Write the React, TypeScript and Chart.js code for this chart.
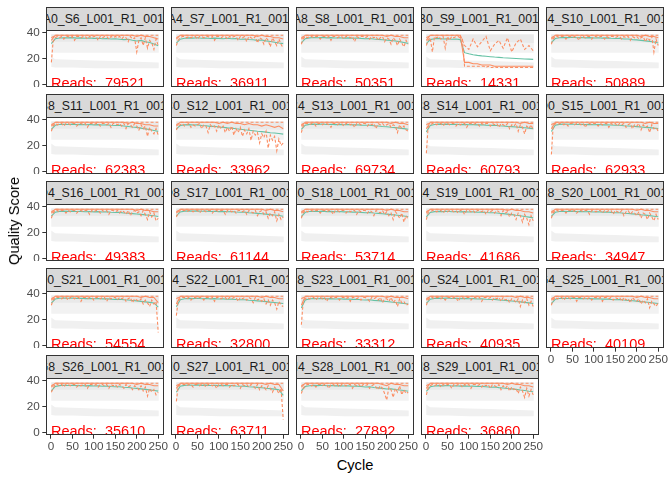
import { useEffect, useRef } from "react";
import { Chart, registerables } from "chart.js";

Chart.register(...registerables);

const FONT = '"Liberation Sans", Arial, sans-serif';

// layout of the facet grid (px)
const PANEL_LEFT = 46;
const STRIP_TOP = 7;
const PITCH_X = 125;
const PITCH_Y = 87;
const PANEL_W = 118;
const PANEL_H = 57;
const STRIP_H = 23;
const Y_AXIS_W = 46;
const X_AXIS_H = 20;
const RIGHT_PAD = 12;

const xTicks = [0, 50, 100, 150, 200, 250];
const yTicks = [0, 10, 20, 30, 40];

const sampleIds = [
  "A0_S6", "A4_S7", "A8_S8", "B0_S9", "B4_S10",
  "B8_S11", "C0_S12", "C4_S13", "C8_S14", "D0_S15",
  "D4_S16", "D8_S17", "E0_S18", "E4_S19", "E8_S20",
  "F0_S21", "F4_S22", "F8_S23", "G0_S24", "G4_S25",
  "G8_S26", "H0_S27", "H4_S28", "H8_S29"
];
const readCounts = [
  79521, 36911, 50351, 14331, 50889,
  62383, 33962, 69734, 60793, 62933,
  49383, 61144, 53714, 41686, 34947,
  54554, 32800, 33312, 40935, 40109,
  35610, 63711, 27892, 36860
];

// cycles where mean / median / q75 were read
const cycles10 = [1, 10, 20, 30, 40, 50, 60, 70, 80, 90, 100, 110, 120, 130, 140, 150, 160, 170, 180, 190, 200, 210, 220, 230, 240, 250];
// cycles where q25 was read
const cycles5 = [
  1, 5, 10, 15, 20, 25, 30, 35, 40, 45,
  50, 55, 60, 65, 70, 75, 80, 85, 90, 95,
  100, 105, 110, 115, 120, 125, 130, 135, 140, 145,
  150, 155, 160, 165, 170, 175, 180, 185, 190, 195,
  200, 205, 210, 215, 220, 225, 230, 235, 240, 245,
  250
];

// grey quality heat bands
const heatCycles = [0.5, 10, 50, 100, 150, 200, 251.5];
const heatHighTop = [38.8, 38.8, 38.8, 38.8, 38.8, 38.8, 38.8];
const heatHighBottom = [24.5, 24.5, 24.5, 24.5, 24.5, 24.5, 24.5];
const heatCoreTop = [38.5, 38.5, 38.5, 38.5, 38.5, 38.5, 38.5];
const heatCoreBottom = [32.5, 33, 33, 33, 33, 32.5, 32];
const heatLowTop = [21.5, 19.5, 19, 18.5, 18, 17.5, 17];
const heatLowBottom = [13.5, 13, 13, 12.5, 12.5, 12.5, 12.5];

// mean quality (green)
const meanS6 = [31.5, 35.2, 35.8, 36.0, 35.9, 36.1, 35.7, 35.9, 35.6, 35.8, 35.5, 35.6, 35.3, 35.4, 35.0, 35.2, 34.9, 34.6, 34.8, 34.1, 33.5, 34.0, 32.9, 32.3, 31.2, 29.8];
const meanS7 = [31.8, 34.9, 35.6, 35.9, 35.7, 36.0, 35.6, 35.8, 35.4, 35.7, 35.5, 35.3, 35.6, 35.2, 35.4, 34.9, 35.1, 34.7, 34.5, 34.0, 34.3, 33.6, 33.1, 32.6, 32.0, 31.5];
const meanS8 = [32.0, 35.3, 35.9, 36.2, 36.0, 36.3, 35.9, 36.1, 35.8, 36.0, 35.7, 35.9, 35.6, 35.8, 35.5, 35.3, 35.4, 35.0, 34.8, 34.5, 34.2, 33.9, 33.5, 33.0, 32.4, 31.7];
const meanS9 = [31.5, 34.6, 35.2, 35.5, 35.0, 35.3, 34.9, 35.1, 34.6, 24.5, 23.6, 22.9, 22.4, 22.0, 21.7, 21.4, 21.1, 20.9, 20.6, 20.4, 20.2, 20.0, 19.8, 19.6, 19.5, 19.3];
const meanS10 = [32.2, 35.4, 36.0, 36.3, 36.1, 36.4, 36.0, 36.2, 35.9, 36.1, 35.8, 36.0, 35.7, 35.9, 35.6, 35.4, 35.5, 35.1, 35.0, 34.6, 34.4, 34.0, 33.6, 33.2, 32.7, 32.0];
const meanS11 = [32.5, 35.6, 36.2, 36.4, 36.2, 36.5, 36.1, 36.3, 36.0, 36.2, 35.9, 36.1, 35.8, 35.9, 35.6, 35.4, 35.5, 35.0, 34.7, 34.3, 34.0, 33.4, 32.8, 32.3, 31.6, 30.9];
const meanS12 = [32.8, 35.4, 35.9, 36.1, 35.8, 35.9, 35.4, 35.3, 34.8, 34.9, 34.3, 34.0, 33.6, 33.4, 32.9, 32.5, 32.1, 31.8, 31.4, 31.0, 30.7, 30.3, 29.9, 29.6, 29.3, 28.8];
const meanS13 = [32.4, 35.7, 36.3, 36.5, 36.3, 36.6, 36.2, 36.4, 36.1, 36.3, 36.0, 36.2, 35.9, 36.0, 35.7, 35.6, 35.6, 35.2, 35.0, 34.7, 34.5, 34.1, 33.8, 33.4, 33.0, 32.6];
const meanS14 = [30.5, 35.5, 36.2, 36.5, 36.3, 36.5, 36.2, 36.4, 36.1, 36.3, 36.0, 36.1, 35.9, 36.0, 35.7, 35.5, 35.6, 35.2, 35.1, 34.8, 34.6, 34.3, 34.0, 33.7, 33.4, 33.0];
const meanS15 = [30.8, 35.6, 36.3, 36.5, 36.4, 36.6, 36.2, 36.4, 36.1, 36.3, 36.0, 36.2, 35.9, 36.0, 35.8, 35.6, 35.6, 35.3, 35.1, 34.9, 34.6, 34.3, 34.0, 33.8, 33.4, 33.1];
const meanS16 = [32.6, 35.7, 36.3, 36.5, 36.3, 36.5, 36.2, 36.3, 36.0, 36.2, 35.9, 36.1, 35.8, 35.9, 35.6, 35.4, 35.5, 35.1, 34.9, 34.6, 34.3, 34.0, 33.6, 33.3, 32.9, 32.4];
const meanS17 = [32.9, 35.9, 36.5, 36.7, 36.5, 36.7, 36.4, 36.5, 36.2, 36.4, 36.1, 36.3, 36.0, 36.1, 35.8, 35.6, 35.7, 35.3, 35.1, 34.8, 34.5, 34.2, 33.8, 33.5, 33.1, 32.6];
const meanS18 = [32.3, 35.6, 36.2, 36.4, 36.2, 36.5, 36.1, 36.3, 36.0, 36.2, 35.9, 36.0, 35.7, 35.8, 35.5, 35.3, 35.4, 35.0, 34.8, 34.5, 34.2, 33.8, 33.5, 33.1, 32.7, 32.2];
const meanS19 = [32.1, 35.5, 36.1, 36.3, 36.1, 36.4, 36.0, 36.2, 35.9, 36.1, 35.8, 35.9, 35.6, 35.7, 35.4, 35.2, 35.3, 34.9, 34.6, 34.2, 33.8, 33.3, 32.9, 32.4, 31.9, 31.3];
const meanS20 = [32.4, 35.6, 36.2, 36.4, 36.2, 36.5, 36.1, 36.3, 36.0, 36.1, 35.8, 36.0, 35.7, 35.8, 35.5, 35.3, 35.3, 34.9, 34.7, 34.4, 34.1, 33.7, 33.4, 33.0, 32.6, 32.1];
const meanS21 = [32.7, 35.8, 36.4, 36.6, 36.4, 36.6, 36.3, 36.4, 36.1, 36.3, 36.0, 36.2, 35.9, 36.0, 35.7, 35.5, 35.6, 35.2, 35.0, 34.7, 34.4, 34.0, 33.6, 33.2, 32.8, 29.5];
const meanS22 = [29.8, 35.2, 36.0, 36.3, 36.1, 36.4, 36.0, 36.2, 35.9, 36.1, 35.8, 35.9, 35.6, 35.7, 35.4, 35.2, 35.3, 34.9, 34.7, 34.4, 34.1, 33.8, 33.4, 33.1, 32.7, 32.3];
const meanS23 = [28.9, 35.0, 35.9, 36.2, 36.0, 36.3, 35.9, 36.1, 35.8, 36.0, 35.7, 35.8, 35.5, 35.6, 35.3, 35.1, 35.2, 34.8, 34.6, 34.2, 33.9, 33.5, 33.1, 32.8, 32.4, 32.0];
const meanS24 = [32.5, 35.7, 36.3, 36.5, 36.3, 36.6, 36.2, 36.4, 36.1, 36.3, 36.0, 36.1, 35.8, 35.9, 35.6, 35.4, 35.5, 35.1, 34.9, 34.6, 34.3, 33.9, 33.6, 33.2, 32.8, 32.4];
const meanS25 = [32.3, 35.6, 36.2, 36.4, 36.2, 36.5, 36.1, 36.3, 36.0, 36.2, 35.9, 36.0, 35.7, 35.8, 35.5, 35.3, 35.4, 35.0, 34.8, 34.5, 34.2, 33.8, 33.5, 33.1, 32.7, 32.3];
const meanS26 = [32.1, 35.5, 36.1, 36.4, 36.2, 36.4, 36.1, 36.2, 35.9, 36.1, 35.8, 35.9, 35.6, 35.7, 35.4, 35.2, 35.3, 34.9, 34.7, 34.3, 34.0, 33.6, 33.2, 32.8, 32.4, 31.9];
const meanS27 = [31.0, 35.6, 36.3, 36.6, 36.4, 36.7, 36.3, 36.5, 36.2, 36.4, 36.1, 36.3, 36.0, 36.1, 35.8, 35.6, 35.7, 35.3, 35.1, 34.8, 34.5, 34.1, 33.8, 33.4, 33.0, 28.6];
const meanS28 = [32.0, 35.4, 36.0, 36.3, 36.1, 36.4, 36.0, 36.2, 35.9, 36.1, 35.8, 35.9, 35.6, 35.7, 35.4, 35.1, 35.2, 34.7, 34.4, 34.0, 33.5, 33.6, 33.1, 32.7, 32.3, 31.8];
const meanS29 = [31.6, 35.2, 35.8, 36.1, 35.9, 36.2, 35.8, 36.0, 35.7, 35.9, 35.6, 35.7, 35.4, 35.5, 35.2, 34.9, 35.0, 34.6, 34.3, 33.9, 33.6, 33.2, 32.7, 32.3, 31.8, 31.4];

// median quality (solid orange)
const medS6 = [34, 38, 38, 38, 38, 38, 38, 38, 38, 38, 38, 38, 38, 38, 38, 38, 38, 38, 38, 38, 37, 38, 37, 37, 36, 35];
const medS7 = [35, 38, 38, 38, 38, 38, 38, 38, 38, 38, 38, 38, 38, 38, 38, 38, 38, 38, 38, 37, 38, 37, 37, 36, 36, 35];
const medS8 = [35, 38, 38, 38, 38, 38, 38, 38, 38, 38, 38, 38, 38, 38, 38, 38, 38, 38, 38, 38, 37, 38, 37, 37, 36, 36];
const medS9 = [34, 38, 38, 38, 38, 38, 38, 38, 38, 17, 17, 16, 16, 15, 15, 15, 14, 14, 14, 14, 14, 14, 14, 14, 14, 14];
const medS10 = [35, 38, 38, 38, 38, 38, 38, 38, 38, 38, 38, 38, 38, 38, 38, 38, 38, 38, 38, 38, 38, 37, 38, 37, 37, 36];
const medS11 = [35, 38, 38, 38, 38, 38, 38, 38, 38, 38, 38, 38, 38, 38, 38, 38, 38, 38, 37, 38, 37, 37, 36, 36, 35, 35];
const medS12 = [35, 38, 38, 38, 38, 38, 38, 38, 38, 38, 37, 38, 37, 38, 37, 37, 36, 37, 36, 36, 35, 36, 35, 34, 35, 33];
const medS13 = [35, 38, 38, 38, 38, 38, 38, 38, 38, 38, 38, 38, 38, 38, 38, 38, 38, 38, 38, 38, 38, 37, 38, 37, 37, 36];
const medS14 = [33, 38, 38, 38, 38, 38, 38, 38, 38, 38, 38, 38, 38, 38, 38, 38, 38, 38, 38, 38, 38, 38, 37, 38, 37, 37];
const medS15 = [33, 38, 38, 38, 38, 38, 38, 38, 38, 38, 38, 38, 38, 38, 38, 38, 38, 38, 38, 38, 38, 38, 37, 38, 37, 37];
const medS16 = [35, 38, 38, 38, 38, 38, 38, 38, 38, 38, 38, 38, 38, 38, 38, 38, 38, 38, 38, 38, 37, 38, 37, 37, 36, 36];
const medS17 = [35, 38, 38, 38, 38, 38, 38, 38, 38, 38, 38, 38, 38, 38, 38, 38, 38, 38, 38, 38, 38, 37, 38, 37, 37, 36];
const medS18 = [35, 38, 38, 38, 38, 38, 38, 38, 38, 38, 38, 38, 38, 38, 38, 38, 38, 38, 38, 38, 37, 38, 37, 37, 36, 36];
const medS19 = [35, 38, 38, 38, 38, 38, 38, 38, 38, 38, 38, 38, 38, 38, 38, 38, 38, 38, 38, 37, 38, 37, 37, 36, 36, 35];
const medS20 = [35, 38, 38, 38, 38, 38, 38, 38, 38, 38, 38, 38, 38, 38, 38, 38, 38, 38, 38, 38, 37, 38, 37, 37, 36, 36];
const medS21 = [35, 38, 38, 38, 38, 38, 38, 38, 38, 38, 38, 38, 38, 38, 38, 38, 38, 38, 38, 38, 38, 37, 38, 37, 37, 33];
const medS22 = [32, 38, 38, 38, 38, 38, 38, 38, 38, 38, 38, 38, 38, 38, 38, 38, 38, 38, 38, 38, 37, 38, 37, 37, 36, 36];
const medS23 = [31, 38, 38, 38, 38, 38, 38, 38, 38, 38, 38, 38, 38, 38, 38, 38, 38, 38, 38, 38, 37, 38, 37, 37, 37, 36];
const medS24 = [35, 38, 38, 38, 38, 38, 38, 38, 38, 38, 38, 38, 38, 38, 38, 38, 38, 38, 38, 38, 38, 37, 38, 37, 37, 36];
const medS25 = [35, 38, 38, 38, 38, 38, 38, 38, 38, 38, 38, 38, 38, 38, 38, 38, 38, 38, 38, 38, 37, 38, 37, 37, 36, 36];
const medS26 = [35, 38, 38, 38, 38, 38, 38, 38, 38, 38, 38, 38, 38, 38, 38, 38, 38, 38, 38, 38, 37, 38, 37, 37, 36, 36];
const medS27 = [34, 38, 38, 38, 38, 38, 38, 38, 38, 38, 38, 38, 38, 38, 38, 38, 38, 38, 38, 38, 38, 37, 38, 37, 37, 32];
const medS28 = [35, 38, 38, 38, 38, 38, 38, 38, 38, 38, 38, 38, 38, 38, 38, 38, 38, 38, 38, 37, 36, 38, 37, 37, 36, 36];
const medS29 = [34, 38, 38, 38, 38, 38, 38, 38, 38, 38, 38, 38, 38, 38, 38, 38, 38, 38, 38, 37, 38, 37, 37, 36, 36, 35];

// upper quartile (dashed orange)
const q75Typical = [36, 38, 38, 38, 38, 38, 38, 38, 38, 38, 38, 38, 38, 38, 38, 38, 38, 38, 38, 38, 38, 38, 38, 38, 38, 38];
const q75S9 = [36, 38, 38, 38, 38, 38, 38, 38, 38, 30, 27, 35, 29, 33, 37, 26, 31, 34, 28, 36, 25, 32, 35, 27, 30, 26];

// lower quartile (dashed orange), read every 5 cycles
const q25S6 = [17, 33, 36, 37, 36, 37, 35, 37, 37, 36, 37, 34, 37, 37, 36, 37, 37, 35, 37, 36, 37, 37, 34, 37, 36, 37, 37, 35, 37, 36, 37, 36, 37, 35, 37, 36, 33, 37, 35, 36, 25, 34, 36, 30, 36, 28, 34, 32, 27, 35, 30];
const q25S7 = [30, 34, 36, 37, 37, 36, 37, 36, 37, 37, 35, 37, 37, 36, 37, 37, 36, 37, 34, 37, 37, 36, 37, 37, 35, 37, 36, 37, 37, 34, 37, 36, 37, 33, 37, 36, 35, 37, 32, 36, 35, 31, 36, 34, 29, 36, 33, 30, 35, 31, 28];
const q25S8 = [31, 35, 37, 36, 37, 37, 36, 37, 37, 35, 37, 37, 36, 37, 34, 37, 37, 36, 37, 37, 35, 37, 37, 36, 37, 33, 37, 36, 37, 37, 36, 37, 35, 37, 36, 37, 34, 36, 37, 33, 36, 35, 31, 36, 34, 30, 35, 32, 29, 34, 31];
const q25S9 = [30, 34, 36, 25, 37, 36, 37, 35, 37, 28, 37, 34, 37, 36, 37, 37, 36, 35, 14, 14, 14, 14, 14, 14, 14, 14, 14, 14, 13, 14, 13, 13, 14, 13, 13, 13, 13, 13, 13, 13, 13, 13, 13, 13, 13, 13, 13, 13, 13, 13, 13];
const q25S10 = [31, 35, 37, 37, 36, 37, 37, 35, 37, 37, 36, 37, 37, 34, 37, 37, 36, 37, 37, 35, 37, 37, 36, 37, 37, 35, 37, 36, 37, 37, 36, 37, 37, 35, 37, 36, 37, 34, 37, 36, 37, 35, 36, 37, 33, 36, 34, 37, 25, 35, 30];
const q25S11 = [31, 35, 37, 36, 37, 37, 35, 37, 37, 36, 37, 37, 35, 37, 37, 36, 37, 34, 37, 37, 36, 37, 37, 35, 37, 37, 36, 37, 34, 37, 37, 36, 37, 35, 37, 33, 37, 36, 34, 37, 35, 32, 36, 33, 35, 27, 34, 31, 29, 33, 28];
const q25S12 = [32, 35, 36, 37, 35, 36, 37, 34, 36, 35, 36, 37, 33, 36, 35, 30, 36, 34, 35, 31, 36, 33, 35, 30, 34, 31, 35, 28, 33, 30, 34, 27, 32, 29, 33, 24, 31, 28, 30, 22, 29, 26, 31, 18, 28, 24, 27, 16, 25, 20, 22];
const q25S13 = [30, 35, 37, 37, 36, 37, 37, 35, 37, 37, 36, 37, 37, 36, 34, 37, 37, 36, 37, 37, 35, 37, 37, 36, 37, 34, 37, 37, 36, 37, 37, 35, 37, 36, 37, 33, 37, 36, 37, 35, 36, 37, 34, 36, 35, 30, 36, 33, 35, 32, 31];
const q25S14 = [14, 34, 36, 37, 37, 36, 37, 37, 35, 37, 37, 36, 37, 37, 35, 37, 36, 37, 37, 34, 37, 37, 36, 37, 37, 35, 37, 36, 37, 37, 35, 37, 36, 37, 34, 37, 36, 35, 37, 33, 36, 35, 37, 31, 36, 34, 29, 35, 33, 36, 32];
const q25S15 = [13, 34, 37, 36, 37, 37, 36, 37, 35, 37, 37, 36, 37, 37, 36, 37, 34, 37, 37, 36, 37, 37, 35, 37, 36, 37, 37, 34, 37, 36, 37, 35, 37, 36, 37, 34, 36, 37, 33, 36, 35, 37, 32, 36, 34, 35, 30, 36, 33, 34, 31];
const q25S16 = [31, 35, 37, 37, 36, 37, 37, 35, 37, 36, 37, 37, 35, 37, 37, 36, 37, 37, 34, 37, 36, 37, 37, 35, 37, 36, 37, 34, 37, 37, 36, 37, 35, 37, 36, 34, 37, 33, 36, 37, 35, 36, 33, 37, 34, 30, 36, 32, 35, 29, 31];
const q25S17 = [32, 35, 37, 37, 37, 36, 37, 37, 36, 37, 37, 35, 37, 37, 36, 37, 37, 35, 37, 37, 36, 37, 37, 34, 37, 37, 36, 37, 35, 37, 37, 36, 37, 34, 37, 36, 35, 37, 33, 36, 37, 34, 36, 31, 35, 33, 36, 29, 34, 30, 32];
const q25S18 = [31, 35, 37, 36, 37, 37, 36, 37, 37, 35, 37, 37, 36, 37, 37, 34, 37, 37, 36, 37, 37, 35, 37, 36, 37, 37, 34, 37, 36, 37, 37, 35, 37, 36, 33, 37, 36, 35, 37, 34, 36, 33, 35, 30, 36, 34, 31, 35, 28, 33, 30];
const q25S19 = [30, 35, 36, 37, 37, 36, 37, 37, 35, 37, 36, 37, 37, 36, 37, 35, 37, 37, 34, 37, 37, 36, 37, 35, 37, 37, 36, 37, 34, 37, 36, 37, 35, 37, 36, 33, 37, 35, 36, 32, 35, 34, 30, 35, 33, 28, 34, 31, 26, 33, 29];
const q25S20 = [31, 35, 37, 37, 36, 37, 37, 35, 37, 37, 36, 37, 35, 37, 37, 36, 37, 37, 34, 37, 37, 36, 37, 37, 35, 37, 36, 37, 37, 34, 37, 36, 35, 37, 33, 36, 37, 34, 36, 35, 33, 36, 31, 35, 34, 30, 35, 32, 29, 34, 30];
const q25S21 = [31, 35, 37, 37, 37, 36, 37, 37, 35, 37, 37, 36, 37, 37, 34, 37, 37, 36, 37, 37, 35, 37, 37, 36, 37, 37, 34, 37, 36, 37, 37, 35, 37, 36, 37, 34, 36, 37, 33, 36, 35, 34, 36, 32, 35, 33, 30, 35, 32, 34, 10];
const q25S22 = [23, 34, 36, 37, 37, 36, 37, 35, 37, 37, 36, 37, 37, 35, 37, 37, 36, 37, 34, 37, 37, 36, 37, 37, 35, 37, 36, 37, 37, 34, 37, 36, 37, 35, 37, 36, 33, 37, 35, 36, 34, 36, 32, 35, 31, 35, 33, 28, 34, 31, 30];
const q25S23 = [16, 33, 36, 37, 36, 37, 37, 35, 37, 37, 36, 37, 34, 37, 37, 36, 37, 37, 35, 37, 37, 36, 37, 34, 37, 37, 36, 37, 35, 37, 37, 36, 34, 37, 36, 37, 35, 37, 33, 36, 36, 34, 37, 33, 35, 30, 36, 33, 34, 31, 32];
const q25S24 = [31, 35, 37, 37, 36, 37, 37, 36, 37, 35, 37, 37, 36, 37, 37, 34, 37, 37, 36, 37, 37, 35, 37, 37, 36, 37, 34, 37, 37, 36, 37, 35, 37, 36, 37, 34, 37, 35, 36, 33, 36, 35, 33, 36, 30, 35, 33, 36, 31, 34, 30];
const q25S25 = [31, 35, 37, 36, 37, 37, 35, 37, 37, 36, 37, 37, 34, 37, 37, 36, 37, 36, 37, 35, 37, 37, 36, 37, 34, 37, 37, 36, 37, 35, 37, 36, 37, 34, 37, 35, 36, 33, 37, 35, 34, 36, 32, 35, 33, 36, 29, 34, 32, 30, 33];
const q25S26 = [31, 34, 37, 37, 36, 37, 35, 37, 37, 36, 37, 37, 35, 37, 36, 37, 37, 34, 37, 37, 36, 37, 35, 37, 37, 36, 37, 34, 37, 36, 37, 35, 37, 36, 34, 37, 35, 36, 33, 36, 35, 33, 36, 32, 35, 28, 34, 31, 33, 29, 31];
const q25S27 = [24, 35, 37, 37, 37, 36, 37, 37, 35, 37, 37, 36, 37, 37, 35, 37, 37, 36, 37, 34, 37, 37, 36, 37, 37, 35, 37, 36, 37, 37, 34, 37, 36, 37, 35, 37, 36, 34, 37, 33, 36, 35, 33, 36, 34, 31, 35, 33, 30, 34, 10];
const q25S28 = [30, 34, 36, 37, 37, 36, 37, 35, 37, 37, 36, 37, 37, 34, 37, 37, 36, 37, 35, 37, 37, 36, 37, 37, 34, 37, 36, 37, 35, 37, 36, 37, 34, 36, 37, 35, 33, 36, 34, 30, 25, 35, 33, 27, 34, 31, 36, 29, 33, 30, 31];
const q25S29 = [29, 34, 36, 37, 36, 37, 37, 35, 37, 36, 37, 37, 34, 37, 36, 37, 37, 35, 37, 36, 37, 34, 37, 37, 36, 37, 35, 37, 36, 37, 34, 37, 36, 35, 37, 33, 36, 34, 36, 32, 35, 33, 34, 30, 35, 32, 27, 34, 28, 33, 29];

const meanLines = [meanS6, meanS7, meanS8, meanS9, meanS10, meanS11, meanS12, meanS13, meanS14, meanS15, meanS16, meanS17, meanS18, meanS19, meanS20, meanS21, meanS22, meanS23, meanS24, meanS25, meanS26, meanS27, meanS28, meanS29];
const medianLines = [medS6, medS7, medS8, medS9, medS10, medS11, medS12, medS13, medS14, medS15, medS16, medS17, medS18, medS19, medS20, medS21, medS22, medS23, medS24, medS25, medS26, medS27, medS28, medS29];
const q25Lines = [q25S6, q25S7, q25S8, q25S9, q25S10, q25S11, q25S12, q25S13, q25S14, q25S15, q25S16, q25S17, q25S18, q25S19, q25S20, q25S21, q25S22, q25S23, q25S24, q25S25, q25S26, q25S27, q25S28, q25S29];
const q75Lines = sampleIds.map((id) => (id === "B0_S9" ? q75S9 : q75Typical));

const GREEN = "#66C2A5";
const ORANGE = "#FC8D62";

const pts = (xs: number[], ys: number[]) => ys.map((y, i) => ({ x: xs[i], y }));

const band = (ys: number[], fillTo: number | false, color: string, order: number) => ({
  data: pts(heatCycles, ys),
  borderWidth: 0,
  pointRadius: 0,
  fill: fillTo,
  backgroundColor: color,
  order
});

const line = (xs: number[], ys: number[], color: string, dashed: boolean, order: number) => ({
  data: pts(xs, ys),
  borderColor: color,
  borderWidth: 1.1,
  borderDash: dashed ? [3, 2] : [],
  pointRadius: 0,
  fill: false,
  tension: 0,
  order
});

function Panel({ i }: { i: number }) {
  const canvasRef = useRef<HTMLCanvasElement | null>(null);
  const col = i % 5;
  const row = Math.floor(i / 5);
  const showY = col === 0;
  const showX = i + 5 >= sampleIds.length;
  const panelX = PANEL_LEFT + col * PITCH_X;
  const top = STRIP_TOP + row * PITCH_Y;
  const left = panelX - (showY ? Y_AXIS_W : 0);
  const width = (showY ? Y_AXIS_W : 0) + PANEL_W + RIGHT_PAD;
  const height = STRIP_H + PANEL_H + (showX ? X_AXIS_H : 0);

  useEffect(() => {
    if (!canvasRef.current) return;
    const reads = readCounts[i];
    const tickFont = { family: FONT, size: 11.7 };

    const chart = new Chart(canvasRef.current, {
      type: "line",
      data: {
        datasets: [
          band(heatHighBottom, false, "transparent", 20),
          band(heatHighTop, 0, "#F2F2F2", 20),
          band(heatCoreBottom, false, "transparent", 19),
          band(heatCoreTop, 2, "#E9E9E9", 19),
          band(heatLowBottom, false, "transparent", 18),
          band(heatLowTop, 4, "#F0F0F0", 18),
          line(cycles10, meanLines[i], GREEN, false, 4),
          line(cycles5, q25Lines[i], ORANGE, true, 3),
          line(cycles10, medianLines[i], ORANGE, false, 2),
          line(cycles10, q75Lines[i], ORANGE, true, 1)
        ] as any
      },
      options: {
        responsive: false,
        animation: false,
        events: [],
        layout: { padding: { top: STRIP_H, right: RIGHT_PAD, left: 0, bottom: 0 } },
        plugins: { legend: { display: false }, tooltip: { enabled: false } },
        scales: {
          x: {
            type: "linear",
            min: -11.5,
            max: 263.5,
            display: showX,
            afterBuildTicks: (s: any) => {
              s.ticks = xTicks.map((v) => ({ value: v }));
            },
            afterFit: (s: any) => {
              s.height = showX ? X_AXIS_H : 0;
              s.paddingLeft = 0;
              s.paddingRight = 0;
            },
            grid: { drawOnChartArea: false, tickLength: 3.7, color: "#333333" },
            border: { display: false },
            ticks: { autoSkip: false, maxRotation: 0, minRotation: 0, padding: 1, color: "#4D4D4D", font: tickFont }
          },
          y: {
            type: "linear",
            min: -2,
            max: 42,
            display: showY,
            afterBuildTicks: (s: any) => {
              s.ticks = yTicks.map((v) => ({ value: v }));
            },
            afterFit: (s: any) => {
              s.width = showY ? Y_AXIS_W : 0;
              s.paddingTop = 0;
              s.paddingBottom = 0;
            },
            grid: { drawOnChartArea: false, tickLength: 3.7, color: "#333333" },
            border: { display: false },
            ticks: { padding: 2.5, color: "#4D4D4D", font: tickFont }
          }
        }
      },
      plugins: [
        {
          id: "panelDecor",
          afterDatasetsDraw(c: Chart) {
            const { ctx, chartArea: a } = c;
            ctx.save();
            ctx.beginPath();
            ctx.rect(a.left, a.top, a.right - a.left, a.bottom - a.top);
            ctx.clip();
            ctx.fillStyle = "#FF0000";
            ctx.font = `14.5px ${FONT}`;
            ctx.textAlign = "left";
            ctx.textBaseline = "middle";
            ctx.fillText(`Reads:  ${reads}`, c.scales.x.getPixelForValue(0), c.scales.y.getPixelForValue(0));
            ctx.restore();
            ctx.save();
            ctx.strokeStyle = "#333333";
            ctx.lineWidth = 1;
            ctx.strokeRect(Math.round(a.left) + 0.5, Math.round(a.top) + 0.5, Math.round(a.right - a.left) - 1, Math.round(a.bottom - a.top) - 1);
            ctx.restore();
          }
        }
      ]
    });

    return () => {
      chart.destroy();
    };
  }, []);

  return (
    <>
      <div style={{ position: "absolute", left, top, width, height }}>
        <canvas ref={canvasRef} width={width} height={height} style={{ display: "block", width, height }} />
      </div>
      <div
        style={{
          position: "absolute",
          left: panelX,
          top,
          width: PANEL_W,
          height: STRIP_H + 1,
          boxSizing: "border-box",
          border: "1px solid #333333",
          background: "#D9D9D9",
          overflow: "hidden",
          display: "flex",
          justifyContent: "center",
          alignItems: "center",
          whiteSpace: "nowrap",
          fontFamily: FONT,
          fontSize: 12.3,
          color: "#1A1A1A"
        }}
      >
        <span style={{ flexShrink: 0 }}>{`Run-${sampleIds[i]}_L001_R1_001.fastq`}</span>
      </div>
    </>
  );
}

export default function App() {
  return (
    <div style={{ position: "absolute", left: 0, top: 0, width: 672, height: 480, background: "#FFFFFF", fontFamily: FONT }}>
      {sampleIds.map((id, i) => (
        <Panel key={id} i={i} />
      ))}
      <div style={{ position: "absolute", left: 14, top: 221, width: 0, height: 0 }}>
        <div
          style={{
            position: "absolute",
            left: 0,
            top: 0,
            transform: "translate(-50%, -50%) rotate(-90deg)",
            whiteSpace: "nowrap",
            fontSize: 14.7,
            color: "#000000"
          }}
        >
          Quality Score
        </div>
      </div>
      <div style={{ position: "absolute", left: 355, top: 465, width: 0, height: 0 }}>
        <div
          style={{
            position: "absolute",
            left: 0,
            top: 0,
            transform: "translate(-50%, -50%)",
            whiteSpace: "nowrap",
            fontSize: 14.7,
            color: "#000000"
          }}
        >
          Cycle
        </div>
      </div>
    </div>
  );
}
